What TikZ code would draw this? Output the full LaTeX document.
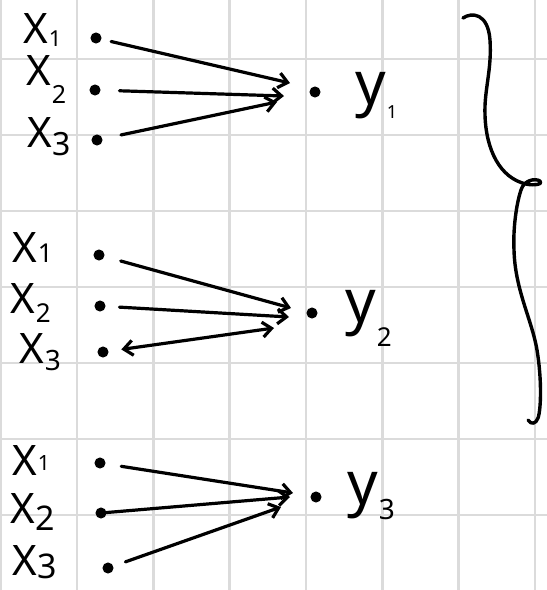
\documentclass[tikz,border=0pt]{standalone}
\usepackage{fontspec}
\setmainfont{Noto Sans}
\usetikzlibrary{arrows.meta}
\newcommand{\lbsub}[3]{{\kern1pt\fontsize{#1}{#1}\selectfont\raisebox{-#2pt}{#3}}}
\begin{document}
\begin{tikzpicture}[x=1pt,y=-1pt,
  gridl/.style={line width=2.4pt, draw=gray!28},
  dotn/.style={circle, fill=black, draw=black, line width=1pt, minimum size=10pt, inner sep=0pt},
  xlab/.style={anchor=base west, inner sep=0pt, font=\fontsize{42}{42}\selectfont},
  ylab/.style={anchor=base west, inner sep=0pt, font=\fontsize{60}{60}\selectfont},
  arr/.style={line width=3.2pt, line cap=round, -{Straight Barb[length=9pt,width=15pt]}},
  brace/.style={line width=3.4pt, line cap=round, line join=round}]
\fill[white] (0,0) rectangle (547,590);
\useasboundingbox (0,0) rectangle (547,590);
% grid
\foreach \gx in {0.5,77,153.3,229.6,306,382.3,458.6,535} \draw[gridl] (\gx,0) -- (\gx,590);
\foreach \gy in {59,135,211,287,363,439,515} \draw[gridl] (0,\gy) -- (547,\gy);
% ---------- group 1 ----------
\node[xlab] (lx11) at (23,43) {X\lbsub{22}{3}{1}};
\node[xlab] (lx12) at (26,85) {X\lbsub{25}{18}{2}};
\node[xlab] (lx13) at (27,147) {X\lbsub{32}{8}{3}};
\node[ylab] (ly1) at (355,104) {y\lbsub{18}{14}{1}};
\node[dotn] (a11) at (96,38) {};
\node[dotn] (a12) at (95,90) {};
\node[dotn] (a13) at (97,140) {};
\node[dotn] (b1) at (315,92) {};
\coordinate (t11) at (290,83);
\coordinate (t12) at (284,96);
\coordinate (t13) at (277,102);
\draw[arr, shorten <=10pt] (a11) -- (t11);
\draw[arr, shorten <=19pt] (a12) -- (t12);
\draw[arr, shorten <=19pt] (a13) -- (t13);
% ---------- group 2 ----------
\node[xlab] (lx21) at (12,262) {X\lbsub{26}{0}{1}};
\node[xlab] (lx22) at (10,313) {X\lbsub{26}{9}{2}};
\node[xlab] (lx23) at (19,363) {X\lbsub{28}{7}{3}};
\node[ylab] (ly2) at (345,322) {y\lbsub{26}{24}{2}};
\node[dotn] (a21) at (99,255) {};
\node[dotn] (a22) at (100,306) {};
\node[dotn] (a23) at (103,352) {};
\node[dotn] (b2) at (312,313) {};
\coordinate (t21) at (291,308);
\coordinate (t22) at (289,317);
\coordinate (t23) at (274,328);
\draw[arr, shorten <=17pt] (a21) -- (t21);
\draw[arr, shorten <=14pt] (a22) -- (t22);
\draw[arr, {Straight Barb[length=9pt,width=15pt]}-{Straight Barb[length=9pt,width=15pt]}, shorten <=13pt] (a23) -- (t23);
% ---------- group 3 ----------
\node[xlab] (lx31) at (12,475) {X\lbsub{21}{-5}{1}};
\node[xlab] (lx32) at (10,523) {X\lbsub{34}{7}{2}};
\node[xlab] (lx33) at (12,575) {X\lbsub{34}{3}{3}};
\node[ylab] (ly3) at (347,504) {y\lbsub{28}{15}{3}};
\node[dotn] (a31) at (100,463) {};
\node[dotn] (a32) at (101,513) {};
\node[dotn] (a33) at (108,568) {};
\node[dotn] (b3) at (316,497) {};
\coordinate (t31) at (293,493);
\coordinate (t32) at (290,497);
\coordinate (t33) at (281,507);
\draw[arr, shorten <=16pt] (a31) -- (t31);
\draw[arr] (a32) -- (t32);
\draw[arr, shorten <=13pt] (a33) -- (t33);
% ---------- brace ----------
\draw[brace] (463,18) .. controls (472,12) and (488,13) .. (490,40)
  .. controls (492,70) and (484,90) .. (485,115)
  .. controls (486,150) and (500,178) .. (526,184)
  .. controls (534,186) and (544,184) .. (540,181)
  .. controls (535,178) and (524,180) .. (521,190)
  .. controls (516,205) and (513,230) .. (514,250)
  .. controls (515,290) and (532,320) .. (537,350)
  .. controls (542,380) and (541,410) .. (538,418)
  .. controls (536,424) and (531,425) .. (528,420);
\end{tikzpicture}
\end{document}
